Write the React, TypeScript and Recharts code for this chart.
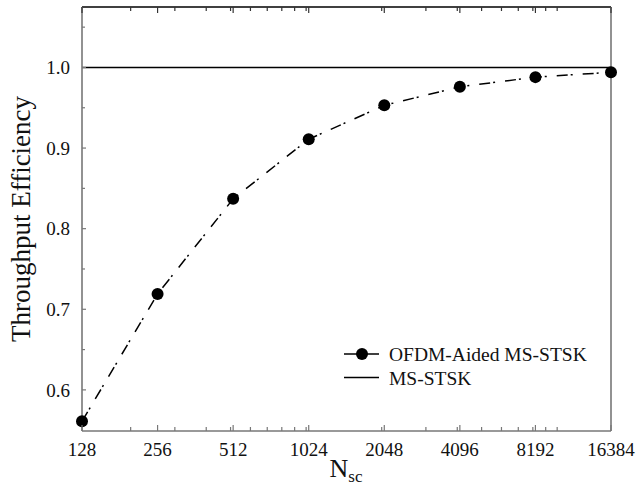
import React from 'react';
import { LineChart, Line, XAxis, YAxis, Legend } from 'recharts';

const nscValues = [128, 256, 512, 1024, 2048, 4096, 8192, 16384];
const ofdmEfficiency = [0.561, 0.719, 0.837, 0.911, 0.953, 0.976, 0.988, 0.994];
const msstskEfficiency = [1.0, 1.0, 1.0, 1.0, 1.0, 1.0, 1.0, 1.0];
const seriesNames = ['OFDM-Aided MS-STSK', 'MS-STSK'];

const xMajorTicks = [128, 256, 512, 1024, 2048, 4096, 8192, 16384];
const xMinorTicks = [200, 300, 400, 500, 600, 700, 800, 900, 1000, 2000, 3000, 4000, 5000, 6000, 7000, 8000, 9000, 10000];
const yMajorTicks = [0.6, 0.7, 0.8, 0.9, 1.0];
const yMinorTicks = [0.65, 0.75, 0.85, 0.95, 1.05];

const rows = nscValues.map((n, i) => ({ n, ofdm: ofdmEfficiency[i], msstsk: msstskEfficiency[i] }));

const xAllTicks = [...xMajorTicks, ...xMinorTicks].sort((a, b) => a - b);
const yAllTicks = [...yMajorTicks, ...yMinorTicks].sort((a, b) => a - b);

const FONT = '"Liberation Serif", "Times New Roman", serif';
const FRAME = '#777';

const isXMajor = (v: number) => xMajorTicks.includes(v);
const isYMajor = (v: number) => yMajorTicks.some((t) => Math.abs(t - v) < 1e-9);

const BottomTick = (props: any) => {
  const { x, y, payload } = props;
  const major = isXMajor(payload.value);
  return (
    <g>
      <line x1={x} y1={y} x2={x} y2={y - (major ? 6 : 4)} stroke={FRAME} strokeWidth={1.2} />
      {major && (
        <text x={x} y={y + 25} textAnchor="middle" fontSize={19} fontFamily={FONT} fill="#111">
          {payload.value}
        </text>
      )}
    </g>
  );
};

const TopTick = (props: any) => {
  const { x, y, payload } = props;
  const major = isXMajor(payload.value);
  return <line x1={x} y1={y} x2={x} y2={y + (major ? 6 : 4)} stroke="#333" strokeWidth={1.2} />;
};

const LeftTick = (props: any) => {
  const { x, y, payload } = props;
  const major = isYMajor(payload.value);
  return (
    <g>
      <line x1={x} y1={y} x2={x + (major ? 4 : 3)} y2={y} stroke={FRAME} strokeWidth={1.2} />
      {major && (
        <text x={x - 12} y={y} dy="0.35em" textAnchor="end" fontSize={19} fontFamily={FONT} fill="#111">
          {Number(payload.value).toFixed(1)}
        </text>
      )}
    </g>
  );
};

const RightTick = (props: any) => {
  const { x, y, payload } = props;
  const major = isYMajor(payload.value);
  return <line x1={x} y1={y} x2={x - (major ? 4 : 3)} y2={y} stroke={FRAME} strokeWidth={1.2} />;
};

const LegendContent = (props: any) => {
  const payload = [...(props.payload || [])].sort(
    (a: any, b: any) => seriesNames.indexOf(a.value) - seriesNames.indexOf(b.value)
  );
  return (
    <svg width={290} height={52} style={{ display: 'block' }}>
      {payload.map((entry: any, i: number) => {
        const cy = 14 + i * 23.5;
        const withDot = entry.dataKey === 'ofdm';
        return (
          <g key={i}>
            <line x1={4} y1={cy} x2={39} y2={cy} stroke="#000" strokeWidth={1.5} />
            {withDot && <circle cx={22} cy={cy} r={6} fill="#000" />}
            <text x={49} y={cy + 7} fontSize={19.5} fontFamily={FONT} fill="#111">
              {entry.value}
            </text>
          </g>
        );
      })}
    </svg>
  );
};

export default function App() {
  return (
    <div style={{ position: 'absolute', left: 0, top: 0, width: 636, height: 493, background: '#fff' }}>
      <LineChart
        width={636}
        height={493}
        data={rows}
        margin={{ top: 6, right: 24, bottom: 0, left: 0 }}
        style={{ fontFamily: FONT }}
      >
        <XAxis
          xAxisId="b"
          dataKey="n"
          type="number"
          scale="log"
          domain={[128, 16384]}
          ticks={xAllTicks}
          interval={0}
          tickLine={false}
          tickSize={0}
          tickMargin={0}
          height={62}
          axisLine={{ stroke: FRAME, strokeWidth: 1.6 }}
          tick={BottomTick}
        />
        <XAxis
          xAxisId="t"
          orientation="top"
          dataKey="n"
          type="number"
          scale="log"
          domain={[128, 16384]}
          ticks={xAllTicks}
          interval={0}
          tickLine={false}
          tickSize={0}
          tickMargin={0}
          height={1}
          axisLine={{ stroke: '#000', strokeWidth: 1.6 }}
          tick={TopTick}
        />
        <YAxis
          yAxisId="l"
          type="number"
          domain={[0.549, 1.075]}
          ticks={yAllTicks}
          interval={0}
          tickLine={false}
          tickSize={0}
          tickMargin={0}
          width={82}
          axisLine={{ stroke: FRAME, strokeWidth: 1.6 }}
          tick={LeftTick}
        />
        <YAxis
          yAxisId="r"
          orientation="right"
          type="number"
          domain={[0.549, 1.075]}
          ticks={yAllTicks}
          interval={0}
          tickLine={false}
          tickSize={0}
          tickMargin={0}
          width={1}
          axisLine={{ stroke: FRAME, strokeWidth: 1.6 }}
          tick={RightTick}
        />
        <Line
          xAxisId="b"
          yAxisId="l"
          type="linear"
          dataKey="ofdm"
          name={seriesNames[0]}
          stroke="#000"
          strokeWidth={1.5}
          strokeDasharray="11 3 2 10"
          dot={{ r: 6, fill: '#000', stroke: '#000', strokeWidth: 0, strokeDasharray: '' }}
          activeDot={false}
          isAnimationActive={false}
        />
        <Line
          xAxisId="b"
          yAxisId="l"
          type="linear"
          dataKey="msstsk"
          name={seriesNames[1]}
          stroke="#000"
          strokeWidth={1.5}
          dot={false}
          activeDot={false}
          isAnimationActive={false}
        />
        <Legend
          layout="vertical"
          align="center"
          verticalAlign="middle"
          content={LegendContent}
          wrapperStyle={{ position: 'absolute', left: 340, top: 340, width: 290, height: 52 }}
        />
        <text x={30} y={219} transform="rotate(-90, 30, 219)" textAnchor="middle" fontSize={27} fontFamily={FONT} fill="#111">
          Throughput Efficiency
        </text>
        <text x={346} y={477} textAnchor="middle" fontSize={26} fontFamily={FONT} fill="#111">
          N<tspan dy={5} fontSize={17}>sc</tspan>
        </text>
      </LineChart>
    </div>
  );
}
